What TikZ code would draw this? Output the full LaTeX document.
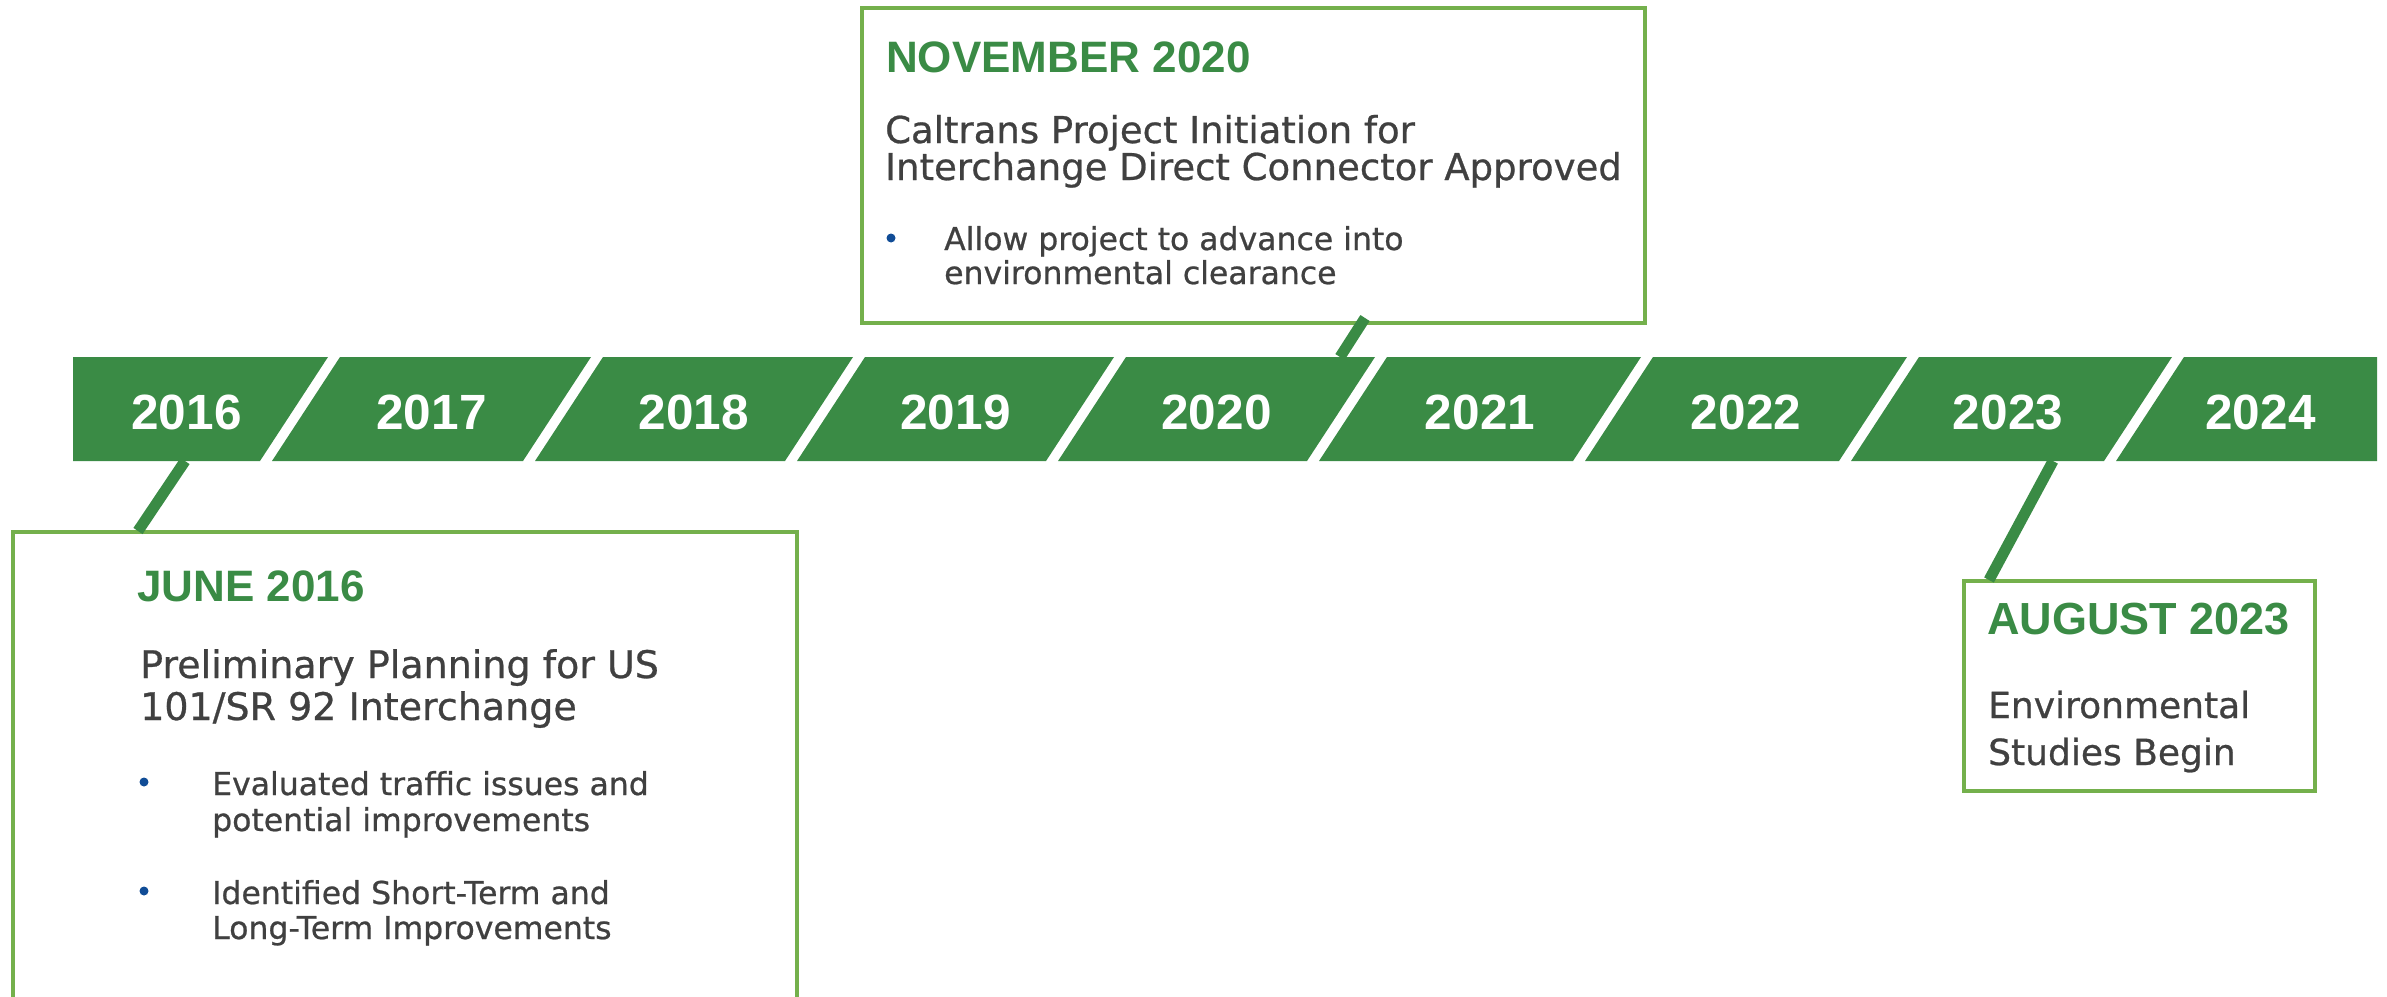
\documentclass[tikz,border=0pt]{standalone}
\usepackage{fontspec}
\setmainfont{DejaVu Sans}
\newfontfamily\bodyfont{DejaVu Sans}[FakeBold=0.7]
\newfontfamily\headfont{Liberation Sans}
\definecolor{bargreen}{RGB}{58,139,69}
\definecolor{boxgreen}{RGB}{116,176,76}
\definecolor{txtgray}{RGB}{64,64,64}
\definecolor{dotblue}{RGB}{16,76,150}
\tikzset{
  seg/.style={fill=bargreen},
  yearlbl/.style={anchor=base, text=white, inner sep=0pt, font=\headfont\bfseries\fontsize{49.5}{55}\selectfont},
  evbox/.style={draw=boxgreen, line width=4pt, anchor=north west, inner sep=0pt},
  conn/.style={draw=bargreen, line width=11pt},
  headtxt/.style={anchor=base west, inner sep=0pt, text=bargreen, font=\headfont\bfseries\fontsize{44}{50}\selectfont},
  titletxt/.style={anchor=base west, inner sep=0pt, text=txtgray, font=\bodyfont\fontsize{38}{42}\selectfont},
  bultxt/.style={anchor=base west, inner sep=0pt, text=txtgray, font=\bodyfont\fontsize{31.5}{36}\selectfont},
  bdot/.style={circle, fill=dotblue, minimum size=9pt, inner sep=0pt}
}
\begin{document}
\begin{tikzpicture}[x=1pt,y=-1pt]
\useasboundingbox (0,0) rectangle (2387,996);
\clip (0,0) rectangle (2387,996);
% bar segments
\fill[seg] (73,357) -- (328,357) -- (260,461) -- (73,461) -- cycle;
\fill[seg] (340,357) -- (591,357) -- (523,461) -- (272,461) -- cycle;
\fill[seg] (603,357) -- (853,357) -- (785,461) -- (535,461) -- cycle;
\fill[seg] (865,357) -- (1114,357) -- (1046,461) -- (797,461) -- cycle;
\fill[seg] (1126,357) -- (1375,357) -- (1307,461) -- (1058,461) -- cycle;
\fill[seg] (1387,357) -- (1641,357) -- (1573,461) -- (1319,461) -- cycle;
\fill[seg] (1653,357) -- (1907,357) -- (1839,461) -- (1585,461) -- cycle;
\fill[seg] (1919,357) -- (2172,357) -- (2104,461) -- (1851,461) -- cycle;
\fill[seg] (2184,357) -- (2377,357) -- (2377,461) -- (2116,461) -- cycle;
% year labels
\node[yearlbl] (y16) at (186.5,429) {2016};
\node[yearlbl] (y17) at (431.5,429) {2017};
\node[yearlbl] (y18) at (694,429) {2018};
\node[yearlbl] (y19) at (955.5,429) {2019};
\node[yearlbl] (y20) at (1216.5,429) {2020};
\node[yearlbl] (y21) at (1480,429) {2021};
\node[yearlbl] (y22) at (1746,429) {2022};
\node[yearlbl] (y23) at (2008,429) {2023};
\node[yearlbl] (y24) at (2260.5,429) {2024};
% boxes
\node[evbox, minimum width=784pt, minimum height=500pt] (june) at (11,530) {};
\node[evbox, minimum width=783pt, minimum height=315pt] (nov) at (860,6) {};
\node[evbox, minimum width=351pt, minimum height=210pt] (aug) at (1962,579) {};
% connectors
\coordinate (cj1) at (185,461);
\coordinate (cj2) at (138,531);
\coordinate (cn1) at (1340,357);
\coordinate (cn2) at (1365,318);
\coordinate (ca1) at (2053,461);
\coordinate (ca2) at (1989,580);
\draw[conn] (cj1) -- (cj2);
\draw[conn] (cn1) -- (cn2);
\draw[conn] (ca1) -- (ca2);
% June 2016 box text
\node[headtxt] (jh) at (137,601) {JUNE 2016};
\node[titletxt] (jt1) at (140,678) {Preliminary Planning for US};
\node[titletxt] (jt2) at (140,720) {101/SR 92 Interchange};
\node[bdot] (jd1) at (144,782) {};
\node[bultxt] (jb1) at (212,795) {Evaluated traffic issues and};
\node[bultxt] (jb2) at (212,831) {potential improvements};
\node[bdot] (jd2) at (144,891) {};
\node[bultxt] (jb3) at (212,904) {Identified Short-Term and};
\node[bultxt] (jb4) at (212,939) {Long-Term Improvements};
% November 2020 box text
\node[headtxt] (nh) at (886,72) {NOVEMBER 2020};
\node[titletxt, font=\bodyfont\fontsize{37}{42}\selectfont] (nt1) at (885,143) {Caltrans Project Initiation for};
\node[titletxt, font=\bodyfont\fontsize{37}{42}\selectfont] (nt2) at (885,180) {Interchange Direct Connector Approved};
\node[bdot] (nd1) at (891,238) {};
\node[bultxt] (nb1) at (944,250) {Allow project to advance into};
\node[bultxt] (nb2) at (944,284) {environmental clearance};
% August 2023 box text
\node[headtxt, font=\headfont\bfseries\fontsize{45}{50}\selectfont] (ah) at (1987,634) {AUGUST 2023};
\node[titletxt, font=\bodyfont\fontsize{36}{42}\selectfont] (at1) at (1988,718) {Environmental};
\node[titletxt, font=\bodyfont\fontsize{36}{42}\selectfont] (at2) at (1988,765) {Studies Begin};
\end{tikzpicture}
\end{document}
